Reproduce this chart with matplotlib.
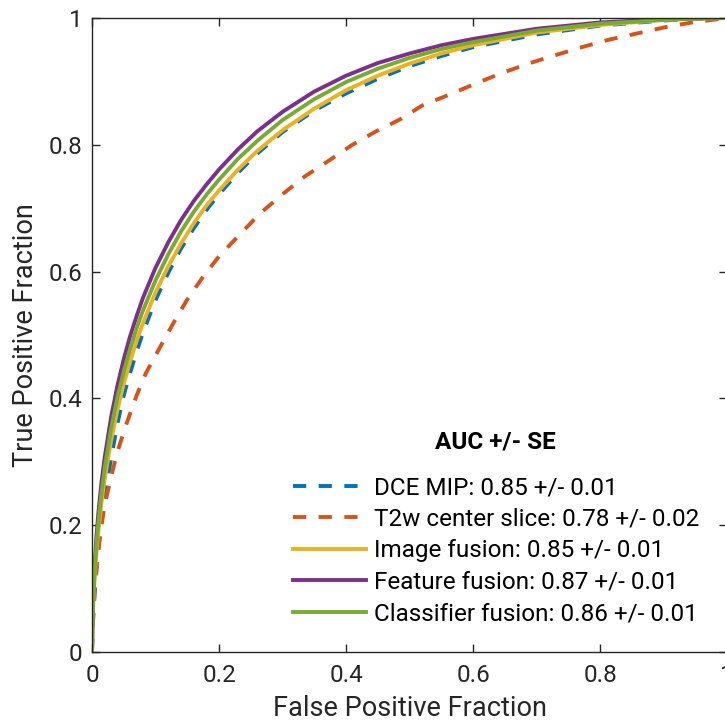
import numpy as np
import matplotlib
matplotlib.use('Agg')
import matplotlib.pyplot as plt

plt.rcParams['font.family'] = ['Roboto', 'DejaVu Sans']

# ROC curves (false positive fraction, true positive fraction)
fpr = [0, 0.001, 0.002, 0.004, 0.007, 0.01, 0.015, 0.02, 0.03, 0.04, 0.05, 0.06, 0.07, 0.08,
       0.1, 0.12, 0.14, 0.16, 0.18, 0.2, 0.23, 0.26, 0.3, 0.35, 0.4, 0.45, 0.5, 0.55, 0.6,
       0.7, 0.8, 0.9, 0.95, 1.0]

tpr_dce = [0, 0.035, 0.055, 0.09, 0.13, 0.163, 0.21, 0.245, 0.305, 0.36, 0.405, 0.44, 0.473, 0.503,
           0.555, 0.598, 0.636, 0.668, 0.697, 0.722, 0.756, 0.786, 0.82, 0.854, 0.881, 0.904, 0.924, 0.94, 0.954,
           0.974, 0.988, 0.996, 0.999, 1.0]
tpr_image = [0, 0.05, 0.077, 0.115, 0.157, 0.191, 0.236, 0.273, 0.333, 0.382, 0.423, 0.458, 0.49, 0.518,
             0.567, 0.608, 0.644, 0.676, 0.704, 0.728, 0.761, 0.79, 0.823, 0.857, 0.886, 0.909, 0.928, 0.944, 0.957,
             0.977, 0.989, 0.997, 0.999, 1.0]
tpr_feature = [0, 0.062, 0.092, 0.135, 0.182, 0.219, 0.268, 0.307, 0.37, 0.42, 0.462, 0.498, 0.529, 0.558,
               0.606, 0.646, 0.681, 0.711, 0.737, 0.761, 0.793, 0.821, 0.852, 0.884, 0.909, 0.929, 0.944, 0.957, 0.967,
               0.983, 0.993, 0.998, 0.9993, 1.0]
tpr_classifier = [0, 0.056, 0.084, 0.125, 0.169, 0.204, 0.251, 0.29, 0.352, 0.401, 0.442, 0.478, 0.51, 0.538,
                  0.586, 0.627, 0.663, 0.694, 0.721, 0.745, 0.778, 0.806, 0.839, 0.872, 0.899, 0.92, 0.937, 0.951, 0.962,
                  0.98, 0.991, 0.997, 0.999, 1.0]

# T2w curve read on its own grid
fpr_t2w = [0, 0.001, 0.002, 0.004, 0.007, 0.01, 0.015, 0.02, 0.03, 0.04, 0.055, 0.07, 0.085, 0.11,
           0.13, 0.15, 0.175, 0.2, 0.235, 0.265, 0.3, 0.335, 0.37, 0.41, 0.445, 0.485, 0.52, 0.565,
           0.605, 0.645, 0.69, 0.735, 0.775, 0.815, 0.86, 0.905, 0.945, 1.0]
tpr_t2w = [0, 0.04, 0.06, 0.095, 0.13, 0.16, 0.2, 0.232, 0.276, 0.316, 0.362, 0.404, 0.44, 0.486,
           0.522, 0.556, 0.592, 0.624, 0.661, 0.692, 0.722, 0.75, 0.773, 0.80, 0.82, 0.84, 0.862, 0.88,
           0.897, 0.913, 0.929, 0.943, 0.955, 0.966, 0.976, 0.986, 0.993, 1.0]

labels = ['DCE MIP: 0.85 +/- 0.01',
          'T2w center slice: 0.78 +/- 0.02',
          'Image fusion: 0.85 +/- 0.01',
          'Feature fusion: 0.87 +/- 0.01',
          'Classifier fusion: 0.86 +/- 0.01']
legend_title = 'AUC +/- SE'

ticks = [0, 0.2, 0.4, 0.6, 0.8, 1]
tick_labels = ['0', '0.2', '0.4', '0.6', '0.8', '1']

ink = '#262626'
lw = 2.8

fig = plt.figure(figsize=(7.25, 7.22), dpi=100)
ax = fig.add_axes([92 / 725, 70 / 722, 635 / 725, 634 / 722])

ax.plot(fpr, tpr_dce, color='#0072BD', lw=lw, dashes=(3.4, 3.2), label=labels[0])
ax.plot(fpr_t2w, tpr_t2w, color='#D95319', lw=lw, dashes=(3.4, 3.2), label=labels[1])
ax.plot(fpr, tpr_image, color='#EDB120', lw=lw, label=labels[2])
ax.plot(fpr, tpr_feature, color='#7E2F8E', lw=lw, label=labels[3])
ax.plot(fpr, tpr_classifier, color='#77AC30', lw=lw, label=labels[4])

ax.set_xlim(0, 1)
ax.set_ylim(0, 1)
ax.set_xticks(ticks)
ax.set_xticklabels(tick_labels)
ax.set_yticks(ticks)
ax.set_yticklabels(tick_labels)
ax.tick_params(direction='in', length=6, width=1, colors=ink, labelsize=17.5,
               top=True, right=True)
ax.tick_params(axis='x', pad=9)
ax.tick_params(axis='y', pad=7)
for s in ax.spines.values():
    s.set_color(ink)
    s.set_linewidth(1)

ax.set_xlabel('False Positive Fraction', fontsize=19.5, color=ink, labelpad=5.5)
ax.set_ylabel('True Positive Fraction', fontsize=19.5, color=ink, labelpad=7)

leg = ax.legend(loc='lower right', bbox_to_anchor=(0.99, 0.008),
                frameon=False, fontsize=17.5, handlelength=3.0,
                handletextpad=0.3, labelspacing=0.35)
# legend heading sits higher above the entries than matplotlib's own title
ax.text(0.635, 0.332, legend_title, transform=ax.transAxes, ha='center', va='center',
        fontsize=17.5, fontweight='bold', color='black')

fig.savefig('out.png', dpi=100)
